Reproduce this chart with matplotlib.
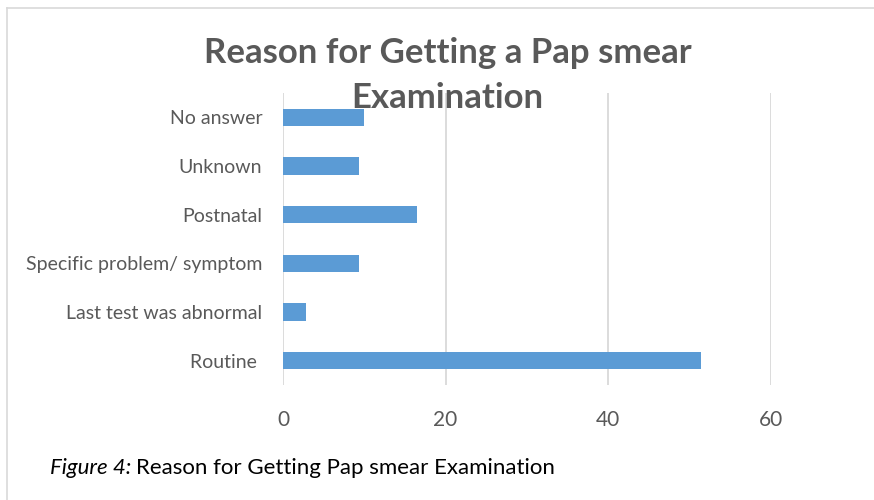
import matplotlib
matplotlib.use('Agg')
import matplotlib.pyplot as plt
from matplotlib.lines import Line2D

reasons = ['Routine ', 'Last test was abnormal', 'Specific problem/ symptom',
           'Postnatal', 'Unknown', 'No answer']
percent = [51.4, 2.8, 9.4, 16.5, 9.4, 10.0]
x_ticks = [0, 20, 40, 60]

plt.rcParams['font.family'] = ['Lato', 'DejaVu Sans']

fig = plt.figure(figsize=(8.74, 5), dpi=100)
ax = fig.add_axes([0.3238, 0.23, 0.882 - 0.3238, 0.814 - 0.23])

ax.barh(range(len(reasons)), percent, height=0.35, color='#5B9BD5', zorder=3)
ax.set_xlim(0, 60)
ax.set_ylim(-0.5, len(reasons) - 0.5)
ax.set_xticks(x_ticks)
ax.set_yticks(range(len(reasons)))
ax.set_yticklabels(reasons)
ax.grid(axis='x', color='#D9D9D9', linewidth=1.3, zorder=0)
for s in ax.spines.values():
    s.set_visible(False)
ax.tick_params(axis='both', length=0)
ax.tick_params(axis='x', labelsize=15, labelcolor='#595959', pad=18)
ax.tick_params(axis='y', labelsize=14, labelcolor='#595959', pad=15)

# title wraps onto two lines, second line sits over the plot top
fig.text(0.512, 1 - 53 / 500, 'Reason for Getting a Pap smear', ha='center',
         va='center', fontsize=25, fontweight='bold', color='#595959')
fig.text(0.512, 1 - 98 / 500, 'Examination', ha='center',
         va='center', fontsize=25, fontweight='bold', color='#595959')

# caption: italic label followed by plain text
fig.canvas.draw()
r = fig.canvas.get_renderer()
lab = fig.text(50 / 874, 1 - 468 / 500, 'Figure 4:', style='italic', fontsize=16,
               color='black', va='center')
w = lab.get_window_extent(r).width
fig.text((50 + w + 5) / 874, 1 - 468 / 500, 'Reason for Getting Pap smear Examination',
         fontsize=16, color='black', va='center')

# outer chart frame (top and left edges visible)
fig.add_artist(Line2D([7 / 874, 7 / 874], [0, 1 - 8 / 500], color='#D9D9D9', lw=1.2,
                      transform=fig.transFigure))
fig.add_artist(Line2D([7 / 874, 1], [1 - 8 / 500, 1 - 8 / 500], color='#D9D9D9', lw=1.2,
                      transform=fig.transFigure))

fig.savefig('out.png', dpi=100)
